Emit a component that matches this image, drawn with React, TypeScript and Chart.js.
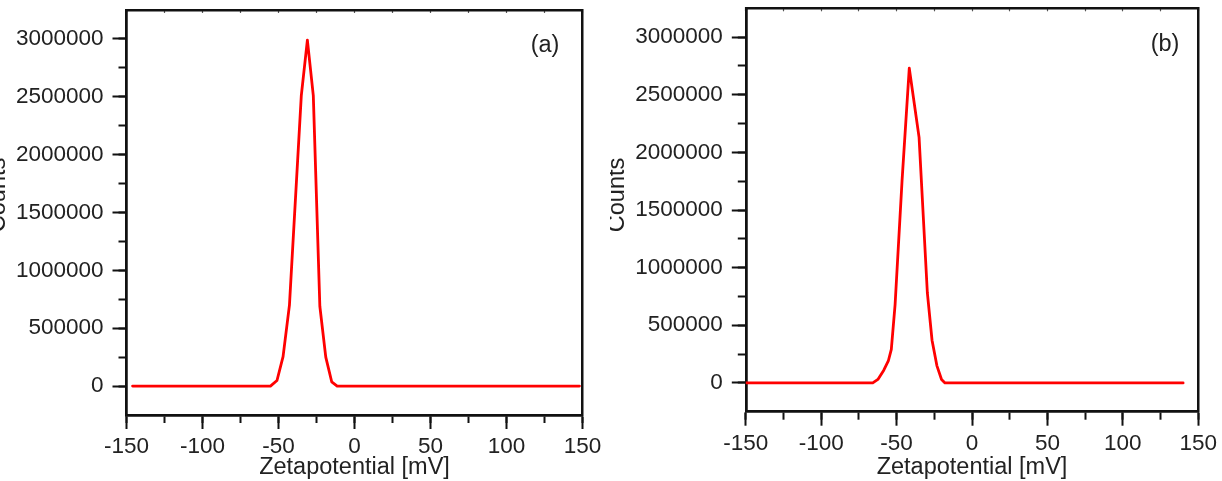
import React, { useEffect, useRef } from 'react';
import { Chart, registerables } from 'chart.js';

Chart.register(...registerables);

// Zeta potential distribution of sample (a): zeta potential [mV] and counts
const zetaA = [-146, -55.3, -51, -47, -42.8, -35, -31, -27.1, -22.8, -18.9, -15, -11.4, 148];
const countsA = [0, 0, 48000, 255000, 700000, 2510000, 2990000, 2510000, 690000, 250000, 37000, 0, 0];

// Zeta potential distribution of sample (b)
const zetaB = [-150, -65.8, -62.4, -58.5, -55.5, -53.5, -51, -46.4, -41.6, -35.1, -29.6, -26.5, -23.3, -20.2, -17.9, 140];
const countsB = [0, 0, 30000, 110000, 190000, 290000, 680000, 1750000, 2730000, 2130000, 780000, 370000, 150000, 30000, 0, 0];

// Axis ticks
const xMajorTicks = [-150, -100, -50, 0, 50, 100, 150];
const xMinorTicks = [-150, -125, -100, -75, -50, -25, 0, 25, 50, 75, 100, 125, 150];
const yMajorTicks = [0, 500000, 1000000, 1500000, 2000000, 2500000, 3000000];
const yMinorTicks = [0, 250000, 500000, 750000, 1000000, 1250000, 1500000, 1750000, 2000000, 2250000, 2500000, 2750000, 3000000];

const X_RANGE = [-150, 150];
const Y_RANGE = [-250000, 3250000];

const FONT = 'Arial, "Liberation Sans", Helvetica, sans-serif';
const TEXT = '#222';
const AXIS = '#111';
const LINE = 'rgb(255, 0, 0)';
const HEIGHT = 481;

type Geom = {
  left: number;
  width: number;
  padTop: number;
  padRight: number;
  axisW: number;
  axisH: number;
  tag: string;
  tagDx: number;
  tagDy: number;
  titleDx: number;
  titleDy: number;
};

const panelText = {
  id: 'panelText',
  afterDraw(chart: any, _args: any, opts: any) {
    const { ctx, chartArea } = chart;
    ctx.save();
    ctx.fillStyle = TEXT;
    ctx.font = `23.5px ${FONT}`;
    ctx.textAlign = 'center';
    ctx.textBaseline = 'middle';
    ctx.fillText(opts.tag, chartArea.right - opts.tagDx, chartArea.top + opts.tagDy);
    ctx.translate(chartArea.left + opts.titleDx, chartArea.top + opts.titleDy);
    ctx.rotate(-Math.PI / 2);
    ctx.fillText('Counts', 0, 0);
    ctx.restore();
  },
};

const setTicks = (values: number[]) => (scale: any) => {
  scale.ticks = values.map((value) => ({ value }));
};

// fixes an axis box size and drops the label overflow padding
const fixSize = (w: number | null, h: number | null) => (s: any) => {
  if (w !== null) s.width = w;
  if (h !== null) s.height = h;
  s.paddingTop = 0;
  s.paddingBottom = 0;
  s.paddingLeft = 0;
  s.paddingRight = 0;
};

function buildConfig(xs: number[], ys: number[], g: Geom): any {
  const border = { display: true, width: 2.5, color: AXIS };
  const hiddenTicks = { display: false };
  const tickFont = { family: FONT, size: 22.5 };
  return {
    type: 'line',
    data: {
      datasets: [
        {
          data: xs.map((x, i) => ({ x, y: ys[i] })),
          borderColor: LINE,
          borderWidth: 2.8,
          borderJoinStyle: 'round',
          borderCapStyle: 'round',
          pointRadius: 0,
          tension: 0,
          fill: false,
        },
      ],
    },
    options: {
      animation: false,
      responsive: false,
      devicePixelRatio: 1,
      parsing: false,
      layout: { padding: { left: 0, top: g.padTop, right: g.padRight, bottom: 0 } },
      plugins: {
        legend: { display: false },
        tooltip: { enabled: false },
        panelText: { tag: g.tag, tagDx: g.tagDx, tagDy: g.tagDy, titleDx: g.titleDx, titleDy: g.titleDy },
      },
      scales: {
        x: {
          type: 'linear',
          position: 'bottom',
          weight: 1,
          min: X_RANGE[0],
          max: X_RANGE[1],
          afterBuildTicks: setTicks(xMajorTicks),
          afterFit: fixSize(null, g.axisH),
          ticks: {
            autoSkip: false,
            maxRotation: 0,
            padding: 4.4,
            color: TEXT,
            font: tickFont,
            callback: (v: any) => String(v),
          },
          grid: { drawOnChartArea: false, drawTicks: true, tickLength: 14, tickWidth: 2, tickColor: AXIS },
          border,
          title: {
            display: true,
            text: 'Zetapotential [mV]',
            color: TEXT,
            font: { family: FONT, size: 23.5, lineHeight: 1 },
            padding: { top: 0, bottom: 1.3 },
          },
        },
        xMinor: {
          type: 'linear',
          position: 'bottom',
          weight: 0,
          min: X_RANGE[0],
          max: X_RANGE[1],
          afterBuildTicks: setTicks(xMinorTicks),
          afterFit: fixSize(null, 0),
          ticks: hiddenTicks,
          grid: { drawOnChartArea: false, drawTicks: true, tickLength: 8, tickWidth: 2, tickColor: AXIS },
          border,
        },
        xTop: {
          type: 'linear',
          position: 'top',
          min: X_RANGE[0],
          max: X_RANGE[1],
          afterBuildTicks: setTicks(xMinorTicks),
          afterFit: fixSize(null, 0),
          ticks: hiddenTicks,
          grid: { drawOnChartArea: false, drawTicks: true, tickLength: -3, tickWidth: 1.2, tickColor: '#555' },
          border,
        },
        y: {
          type: 'linear',
          position: 'left',
          weight: 1,
          min: Y_RANGE[0],
          max: Y_RANGE[1],
          afterBuildTicks: setTicks(yMajorTicks),
          afterFit: fixSize(g.axisW, null),
          ticks: {
            autoSkip: false,
            padding: 9,
            color: TEXT,
            font: tickFont,
            callback: (v: any) => String(v),
          },
          grid: { drawOnChartArea: false, drawTicks: true, tickLength: 14, tickWidth: 2, tickColor: AXIS },
          border,
        },
        yMinor: {
          type: 'linear',
          position: 'left',
          weight: 0,
          min: Y_RANGE[0],
          max: Y_RANGE[1],
          afterBuildTicks: setTicks(yMinorTicks),
          afterFit: fixSize(0, null),
          ticks: hiddenTicks,
          grid: { drawOnChartArea: false, drawTicks: true, tickLength: 8, tickWidth: 2, tickColor: AXIS },
          border,
        },
        yRight: {
          type: 'linear',
          position: 'right',
          min: Y_RANGE[0],
          max: Y_RANGE[1],
          afterFit: fixSize(0, null),
          ticks: hiddenTicks,
          grid: { drawOnChartArea: false, drawTicks: false },
          border,
        },
      },
    },
    plugins: [panelText],
  };
}

function Panel({ xs, ys, g }: { xs: number[]; ys: number[]; g: Geom }) {
  const ref = useRef<HTMLCanvasElement>(null);
  useEffect(() => {
    const chart = new Chart(ref.current as HTMLCanvasElement, buildConfig(xs, ys, g));
    return () => chart.destroy();
  }, [xs, ys, g]);
  return (
    <canvas
      ref={ref}
      width={g.width}
      height={HEIGHT}
      style={{ position: 'absolute', left: g.left, top: 0, width: g.width, height: HEIGHT }}
    />
  );
}

const geomA: Geom = {
  left: 0, width: 610, padTop: 10, padRight: 27.5, axisW: 126.5, axisH: 66,
  tag: '(a)', tagDx: 37.5, tagDy: 35.5, titleDx: -127.5, titleDy: 185,
};
const geomB: Geom = {
  left: 610, width: 612, padTop: 8.3, padRight: 23.8, axisW: 135.8, axisH: 69.3,
  tag: '(b)', tagDx: 33.2, tagDy: 36.4, titleDx: -127.8, titleDy: 186.7,
};

export default function App() {
  return (
    <div style={{ position: 'fixed', left: 0, top: 0, width: 1222, height: HEIGHT, background: '#fff', overflow: 'hidden' }}>
      <Panel xs={zetaA} ys={countsA} g={geomA} />
      <Panel xs={zetaB} ys={countsB} g={geomB} />
    </div>
  );
}
